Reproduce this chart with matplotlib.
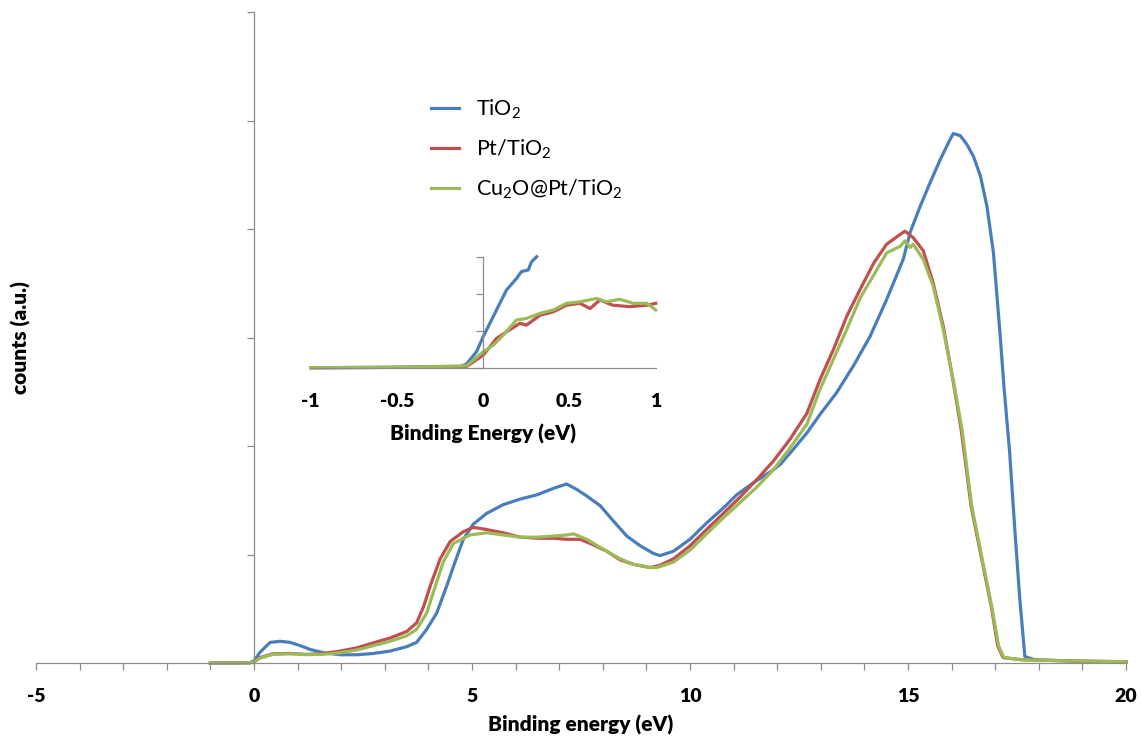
import matplotlib
matplotlib.use("Agg")
import matplotlib.pyplot as plt
from matplotlib.ticker import MultipleLocator

plt.rcParams["font.family"] = ["Lato", "DejaVu Sans"]
plt.rcParams["mathtext.fontset"] = "custom"
plt.rcParams["mathtext.rm"] = "Lato"
plt.rcParams["mathtext.it"] = "Lato:italic"
plt.rcParams["mathtext.bf"] = "Lato:bold"
plt.rcParams["axes.unicode_minus"] = False

BLUE = "#4A7EBB"
RED = "#C0504D"
GREEN = "#9BBB59"
AXIS_GREY = "#8C8C8C"
BOLD = "heavy"

labels = ["TiO$_2$", "Pt/TiO$_2$", "Cu$_2$O@Pt/TiO$_2$"]

# main spectrum (binding energy in eV, counts in arbitrary units)
tio2_x = [-1, -0.1, 0, 0.14, 0.37, 0.6, 0.83, 1.06, 1.29, 1.6, 1.98, 2.36, 2.74,
          3.12, 3.5, 3.73, 3.96, 4.19, 4.42, 4.61, 4.8, 5.03, 5.34, 5.72, 6.1,
          6.49, 6.87, 7.17, 7.4, 7.63, 7.94, 8.24, 8.55, 8.86, 9.16, 9.31, 9.62,
          10.0, 10.38, 10.77, 11.07, 11.45, 11.91, 12.07, 12.37, 12.68, 12.98,
          13.36, 13.75, 14.13, 14.51, 14.89, 15.05, 15.28, 15.51, 15.74, 15.97,
          16.04, 16.2, 16.35, 16.5, 16.66, 16.81, 16.96, 17.11, 17.2, 17.33,
          17.45, 17.56, 17.68, 17.9, 19.0, 20.0]
tio2_y = [0, 0.003, 0.02, 0.1, 0.19, 0.2, 0.19, 0.16, 0.125, 0.094, 0.076, 0.076,
          0.088, 0.11, 0.15, 0.19, 0.31, 0.46, 0.71, 0.93, 1.14, 1.28, 1.38, 1.46,
          1.51, 1.55, 1.61, 1.65, 1.6, 1.54, 1.45, 1.31, 1.17, 1.08, 1.01, 0.99,
          1.03, 1.14, 1.29, 1.43, 1.55, 1.66, 1.78, 1.83, 1.97, 2.12, 2.29, 2.49,
          2.74, 3.01, 3.35, 3.72, 3.97, 4.21, 4.43, 4.64, 4.83, 4.88, 4.86, 4.78,
          4.67, 4.49, 4.21, 3.78, 3.04, 2.55, 1.95, 1.23, 0.61, 0.06, 0.03, 0.015,
          0.01]

pt_x = [-1, -0.1, 0, 0.14, 0.44, 0.83, 1.21, 1.59, 1.98, 2.36, 2.74, 3.12, 3.5,
        3.73, 3.89, 4.05, 4.27, 4.5, 4.8, 5.03, 5.34, 5.72, 6.1, 6.49, 6.87, 7.17,
        7.48, 7.78, 8.09, 8.4, 8.7, 9.08, 9.31, 9.62, 10.0, 10.38, 10.77, 11.15,
        11.53, 11.91, 12.29, 12.68, 12.98, 13.29, 13.6, 13.91, 14.22, 14.51,
        14.82, 14.93, 15.12, 15.35, 15.58, 15.81, 16.03, 16.22, 16.45, 16.68,
        16.91, 17.06, 17.18, 17.6, 19.0, 20.0]
pt_y = [0, 0.002, 0.01, 0.05, 0.085, 0.088, 0.078, 0.088, 0.11, 0.14, 0.186, 0.23,
        0.29, 0.37, 0.52, 0.72, 0.96, 1.12, 1.21, 1.25, 1.23, 1.2, 1.16, 1.15,
        1.15, 1.14, 1.14, 1.09, 1.03, 0.95, 0.91, 0.88, 0.9, 0.96, 1.08, 1.23,
        1.38, 1.53, 1.69, 1.86, 2.06, 2.3, 2.61, 2.89, 3.2, 3.45, 3.69, 3.86,
        3.95, 3.98, 3.92, 3.8, 3.5, 3.1, 2.61, 2.15, 1.44, 0.98, 0.52, 0.155,
        0.05, 0.03, 0.017, 0.012]

cu_x = [-1, -0.1, 0, 0.14, 0.44, 0.83, 1.21, 1.59, 1.98, 2.36, 2.74, 3.12, 3.5,
        3.73, 3.96, 4.12, 4.34, 4.57, 4.95, 5.34, 5.72, 6.1, 6.49, 6.87, 7.17,
        7.33, 7.63, 8.09, 8.4, 8.7, 9.08, 9.24, 9.62, 10.0, 10.38, 10.77, 11.15,
        11.53, 11.91, 12.29, 12.68, 12.98, 13.29, 13.6, 13.91, 14.22, 14.51,
        14.82, 14.93, 15.05, 15.12, 15.35, 15.58, 15.81, 16.04, 16.24, 16.46,
        16.69, 16.92, 17.08, 17.2, 17.6, 19.0, 20.0]
cu_y = [0, 0.002, 0.01, 0.045, 0.08, 0.085, 0.078, 0.08, 0.095, 0.12, 0.16, 0.2,
        0.25, 0.31, 0.46, 0.66, 0.93, 1.1, 1.18, 1.2, 1.18, 1.16, 1.16, 1.17,
        1.18, 1.19, 1.14, 1.03, 0.96, 0.91, 0.88, 0.88, 0.93, 1.04, 1.19, 1.34,
        1.48, 1.62, 1.78, 1.98, 2.2, 2.52, 2.8, 3.08, 3.37, 3.58, 3.78, 3.84,
        3.89, 3.83, 3.86, 3.72, 3.47, 3.07, 2.6, 2.15, 1.45, 0.98, 0.52, 0.155,
        0.05, 0.03, 0.017, 0.012]

# inset: zoom on the Fermi edge
in_tio2_x = [-1, -0.5, -0.135, -0.097, -0.039, 0, 0.058, 0.135, 0.193, 0.222,
             0.261, 0.28, 0.31]
in_tio2_y = [0, 0.01, 0.03, 0.1, 0.43, 0.84, 1.38, 2.1, 2.41, 2.6, 2.64, 2.86, 3.0]
in_pt_x = [-1, -0.5, -0.097, 0, 0.077, 0.135, 0.213, 0.25, 0.33, 0.406, 0.483,
           0.56, 0.62, 0.676, 0.75, 0.85, 0.95, 1.0]
in_pt_y = [0, 0.01, 0.03, 0.34, 0.79, 0.97, 1.2, 1.15, 1.42, 1.51, 1.69, 1.74,
           1.6, 1.83, 1.69, 1.65, 1.69, 1.74]
in_cu_x = [-1, -0.5, -0.097, 0, 0.058, 0.116, 0.193, 0.25, 0.33, 0.406, 0.483,
           0.56, 0.657, 0.715, 0.79, 0.87, 0.95, 1.0]
in_cu_y = [0, 0.01, 0.05, 0.43, 0.61, 0.88, 1.29, 1.33, 1.47, 1.56, 1.74, 1.78,
           1.87, 1.78, 1.85, 1.74, 1.74, 1.56]


def style_axes(ax):
    ax.spines["top"].set_visible(False)
    ax.spines["right"].set_visible(False)
    ax.spines["left"].set_position(("data", 0))
    for side in ("left", "bottom"):
        ax.spines[side].set_color(AXIS_GREY)
        ax.spines[side].set_linewidth(0.9)
    ax.tick_params(which="both", direction="out", color=AXIS_GREY, width=0.9,
                   length=5)
    ax.tick_params(axis="y", labelleft=False)


fig = plt.figure(figsize=(11.42, 7.37), dpi=100)

# main axes
ax = fig.add_axes([36 / 1142, 74 / 737, 1090 / 1142, 651 / 737])
lw = 2.3
ax.plot(tio2_x, tio2_y, color=BLUE, lw=lw, label=labels[0], clip_on=False)
ax.plot(pt_x, pt_y, color=RED, lw=lw, label=labels[1], clip_on=False)
ax.plot(cu_x, cu_y, color=GREEN, lw=lw, label=labels[2], clip_on=False)
ax.set_xlim(-5, 20)
ax.set_ylim(0, 6)
style_axes(ax)
ax.xaxis.set_major_locator(MultipleLocator(5))
ax.xaxis.set_minor_locator(MultipleLocator(1))
ax.yaxis.set_major_locator(MultipleLocator(1))
ax.tick_params(axis="x", labelsize=14, pad=13)
for t in ax.get_xticklabels():
    t.set_fontweight(BOLD)
ax.set_xlabel("Binding energy (eV)", fontsize=15, fontweight=BOLD, labelpad=7)
ax.set_ylabel("counts (a.u.)", fontsize=15, fontweight=BOLD)
ax.yaxis.set_label_coords(-0.005, 0.5)

ax.legend(loc="upper left", bbox_to_anchor=(412 / 1142, 1 - 78 / 737),
          bbox_transform=fig.transFigure, frameon=False, fontsize=15.5,
          handlelength=1.3, handletextpad=0.75, labelspacing=0.78)

# inset
ins = fig.add_axes([310.7 / 1142, (737 - 367.7) / 737, 345 / 1142, 111 / 737])
ins.plot(in_tio2_x, in_tio2_y, color=BLUE, lw=lw, clip_on=False)
ins.plot(in_pt_x, in_pt_y, color=RED, lw=lw, clip_on=False)
ins.plot(in_cu_x, in_cu_y, color=GREEN, lw=lw, clip_on=False)
ins.set_xlim(-1, 1)
ins.set_ylim(0, 3)
style_axes(ins)
ins.set_xticks([-1, -0.5, 0, 0.5, 1])
ins.set_xticklabels(["-1", "-0.5", "0", "0.5", "1"])
ins.set_yticks([0, 1, 2, 3])
ins.tick_params(axis="x", length=0, labelsize=14, pad=18)
for t in ins.get_xticklabels():
    t.set_fontweight(BOLD)
ins.set_xlabel("Binding Energy (eV)", fontsize=15, fontweight=BOLD, labelpad=10)
ins.patch.set_alpha(0)

fig.savefig("out.png", dpi=100)
